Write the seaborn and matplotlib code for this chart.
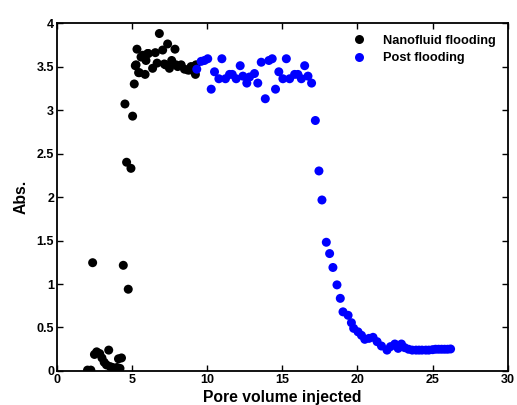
import numpy as np
import pandas as pd
import matplotlib
matplotlib.use("Agg")
import matplotlib.pyplot as plt
import seaborn as sns

# Nanofluid flooding (black)
nano_x = [2.04, 2.26, 2.38, 2.50, 2.65, 2.85, 3.00, 3.15, 3.30, 3.45, 3.55, 3.70, 3.85,
          4.00, 4.10, 4.20, 4.30, 4.42, 4.53, 4.64, 4.75, 4.93, 5.04, 5.15, 5.22, 5.27,
          5.33, 5.44, 5.49, 5.60, 5.71, 5.87, 5.93, 6.04, 6.09, 6.37, 6.55, 6.67, 6.82,
          7.04, 7.15, 7.22, 7.37, 7.49, 7.64, 7.86, 7.93, 8.04, 8.27, 8.49, 8.71, 8.82,
          8.93, 9.15, 9.22, 9.26]
nano_y = [0.01, 0.01, 1.245, 0.19, 0.22, 0.20, 0.15, 0.10, 0.07, 0.24, 0.05, 0.04, 0.03,
          0.04, 0.14, 0.03, 0.15, 1.215, 3.07, 2.40, 0.94, 2.33, 2.93, 3.30, 3.51, 3.52,
          3.70, 3.43, 3.43, 3.61, 3.63, 3.41, 3.57, 3.65, 3.65, 3.48, 3.66, 3.54, 3.88,
          3.69, 3.53, 3.52, 3.76, 3.48, 3.57, 3.70, 3.52, 3.50, 3.52, 3.47, 3.46, 3.46,
          3.50, 3.50, 3.41, 3.52]

# Post flooding (blue)
post_x = [9.31, 9.60, 9.82, 10.04, 10.27, 10.49, 10.78, 10.98, 11.22, 11.49, 11.67, 11.93,
          12.20, 12.38, 12.64, 12.82, 13.15, 13.37, 13.60, 13.87, 14.11, 14.33, 14.55,
          14.77, 15.04, 15.27, 15.49, 15.82, 16.04, 16.27, 16.49, 16.71, 16.95, 17.20,
          17.44, 17.64, 17.93, 18.15, 18.37, 18.64, 18.86, 19.04, 19.38, 19.60, 19.75,
          20.04, 20.27, 20.49, 20.77, 21.04, 21.31, 21.60, 21.97, 22.20, 22.49, 22.71,
          22.93, 23.15, 23.40, 23.65, 23.90, 24.10, 24.30, 24.55, 24.75, 25.00, 25.20,
          25.40, 25.60, 25.80, 26.00, 26.20]
post_y = [3.47, 3.56, 3.57, 3.59, 3.24, 3.44, 3.36, 3.59, 3.36, 3.41, 3.41, 3.36,
          3.51, 3.39, 3.31, 3.38, 3.42, 3.31, 3.55, 3.13, 3.57, 3.59, 3.24,
          3.44, 3.36, 3.59, 3.36, 3.41, 3.41, 3.36, 3.51, 3.39, 3.31, 2.88,
          2.30, 1.966, 1.48, 1.35, 1.19, 0.99, 0.835, 0.68, 0.64, 0.555, 0.49,
          0.45, 0.41, 0.364, 0.375, 0.387, 0.337, 0.287, 0.24, 0.28, 0.31, 0.26,
          0.31, 0.268, 0.25, 0.24, 0.24, 0.24, 0.24, 0.24, 0.24, 0.245, 0.25,
          0.25, 0.25, 0.25, 0.25, 0.253]

series_names = ["Nanofluid flooding", "Post flooding"]
colors = ["black", "blue"]
x_ticks = [0, 5, 10, 15, 20, 25, 30]
y_ticks = [0, 0.5, 1, 1.5, 2, 2.5, 3, 3.5, 4]
y_tick_labels = ["0", "0.5", "1", "1.5", "2", "2.5", "3", "3.5", "4"]

df = pd.concat([
    pd.DataFrame({"x": nano_x, "y": nano_y, "series": series_names[0]}),
    pd.DataFrame({"x": post_x, "y": post_y, "series": series_names[1]}),
])

sns.set_style("ticks")
plt.rcParams["font.family"] = ["Liberation Sans", "DejaVu Sans"]
plt.rcParams["font.weight"] = "bold"
plt.rcParams["text.color"] = "black"
plt.rcParams["axes.labelcolor"] = "black"
plt.rcParams["xtick.color"] = "black"
plt.rcParams["ytick.color"] = "black"

fig = plt.figure(figsize=(5.17, 4.05), dpi=100)
ax = fig.add_axes([0.110, 0.084, 0.872, 0.859])

sns.scatterplot(data=df, x="x", y="y", hue="series", hue_order=series_names,
                palette=dict(zip(series_names, colors)), s=42, linewidth=0,
                ax=ax, legend=True, zorder=3)

ax.set_xlim(0, 30)
ax.set_ylim(0, 4)
ax.set_xticks(x_ticks)
ax.set_xticklabels([str(t) for t in x_ticks], fontsize=9, fontweight="bold")
ax.set_yticks(y_ticks)
ax.set_yticklabels(y_tick_labels, fontsize=9, fontweight="bold")
ax.tick_params(direction="in", length=4, width=1, top=True, right=True,
               bottom=True, left=True, pad=2, colors="black")
for sp in ax.spines.values():
    sp.set_visible(True)
    sp.set_color("black")
    sp.set_linewidth(1.3)

ax.set_xlabel("Pore volume injected", fontsize=11.3, fontweight="bold", labelpad=3)
ax.set_ylabel("Abs.", fontsize=11.3, fontweight="bold", labelpad=6)

leg = ax.legend(loc="upper right", frameon=False, fontsize=9.2,
                handletextpad=0.9, borderaxespad=0.5, labelspacing=0.45,
                bbox_to_anchor=(1.0, 1.0))
for t in leg.get_texts():
    t.set_fontweight("bold")

fig.savefig("out.png", dpi=100)
